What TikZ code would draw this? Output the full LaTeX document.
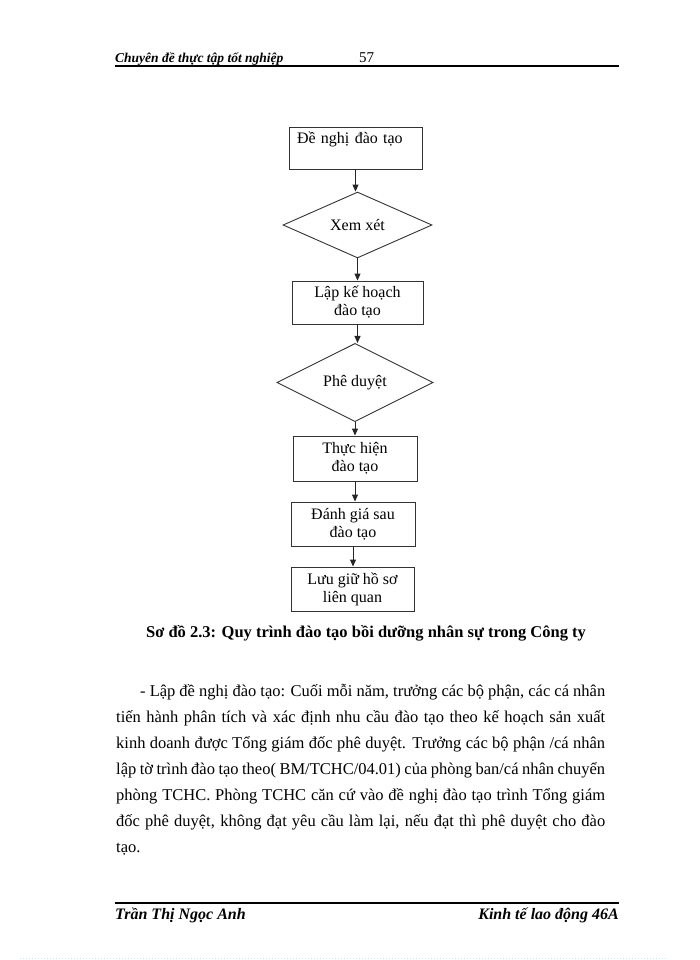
\documentclass[tikz,border=0pt]{standalone}
\usepackage{fontspec}
\setmainfont{Liberation Serif}
\usetikzlibrary{shapes.geometric,arrows.meta}

\tikzset{
  stepbox/.style={draw=black!80, line width=0.9pt, inner sep=0pt, align=center,
    font=\fontsize{16}{18}\selectfont},
  decision/.style={draw=black!80, line width=0.9pt, diamond, inner sep=0pt,
    font=\fontsize{16}{18}\selectfont},
  flow/.style={draw=black!85, line width=0.9pt, -{Triangle[length=7pt,width=6pt]}},
  rulebar/.style={line width=1.2pt},
}

\begin{document}
\begin{tikzpicture}[x=1pt,y=-1pt]
  \useasboundingbox (0,0) rectangle (700,960);

  % Header
  \node[anchor=base west, inner sep=0pt, font=\fontsize{13.5}{14}\selectfont\bfseries\itshape] (head) at (115,63) {Chuyên đề thực tập tốt nghiệp};
  \node[anchor=base west, inner sep=0pt, font=\fontsize{15}{15}\selectfont] (page) at (359,63) {57};
  \draw[rulebar] (115,66) -- (619,66);

  % Steps
  \node[stepbox, align=left, inner xsep=8pt, inner ysep=5pt, text width=117pt,
    text height=12pt, text depth=20pt] (b1) at (355.5,148) {Đề nghị đào tạo};
  \node[decision, minimum width=149pt, minimum height=64pt] (d1) at (357.5,225) {Xem xét};
  \node[stepbox, minimum width=131pt, minimum height=43pt] (b2) at (357.5,302.5) {Lập kế hoạch\\đào tạo};
  \node[decision, minimum width=156pt, minimum height=65pt] (d2) at (355,382.5) {Phê duyệt};
  \node[stepbox, minimum width=124pt, minimum height=45pt] (b3) at (355,458.5) {Thực hiện\\đào tạo};
  \node[stepbox, minimum width=124pt, minimum height=44pt] (b4) at (353,524) {Đánh giá sau\\đào tạo};
  \node[stepbox, minimum width=123pt, minimum height=44pt] (b5) at (352.5,589) {Lưu giữ hồ sơ\\liên quan};

  % Arrows
  \draw[flow] (b1.south) -- (b1.south |- d1.north);
  \draw[flow] (d1.south) -- (d1.south |- b2.north);
  \draw[flow] (b2.south) -- (b2.south |- d2.north);
  \draw[flow] (d2.south) -- (d2.south |- b3.north);
  \draw[flow] (b3.south) -- (b3.south |- b4.north);
  \draw[flow] (b4.south) -- (b4.south |- b5.north);

  % Caption
  \node[font=\fontsize{16.5}{17}\selectfont\bfseries] (cap) at (366,633) {Sơ đồ 2.3: Quy trình đào tạo bồi dưỡng nhân sự trong Công ty};

  % Paragraph
  \node[anchor=north west, inner sep=0pt, align=left, font=\fontsize{16.5}{26}\selectfont] (para) at (116,680) {%
    \rule{0pt}{16pt}\makebox[489pt][s]{\hspace*{24pt}- Lập đề nghị đào tạo: Cuối mỗi năm, trưởng các bộ phận, các cá nhân}\\
    \makebox[489pt][s]{tiến hành phân tích và xác định nhu cầu đào tạo theo kế hoạch sản xuất}\\
    \makebox[489pt][s]{kinh doanh được Tổng giám đốc phê duyệt. Trưởng các bộ phận /cá nhân}\\
    \makebox[489pt][s]{lập tờ trình đào tạo theo( BM/TCHC/04.01) của phòng ban/cá nhân chuyển}\\
    \makebox[489pt][s]{phòng TCHC. Phòng TCHC căn cứ vào đề nghị đào tạo trình Tổng giám}\\
    \makebox[489pt][s]{đốc phê duyệt, không đạt yêu cầu làm lại, nếu đạt thì phê duyệt cho đào}\\
    tạo.};

  % Footer
  \draw[rulebar] (115,903) -- (619,903);
  \node[anchor=base west, inner sep=0pt, font=\fontsize{16}{16}\selectfont\bfseries\itshape] (author) at (115,919) {Trần Thị Ngọc Anh};
  \node[anchor=base east, inner sep=0pt, font=\fontsize{16}{16}\selectfont\bfseries\itshape] (course) at (619,919) {Kinh tế lao động 46A};
  \draw[cyan!25, dotted, line width=1pt] (20,958) -- (668,958);
\end{tikzpicture}
\end{document}
